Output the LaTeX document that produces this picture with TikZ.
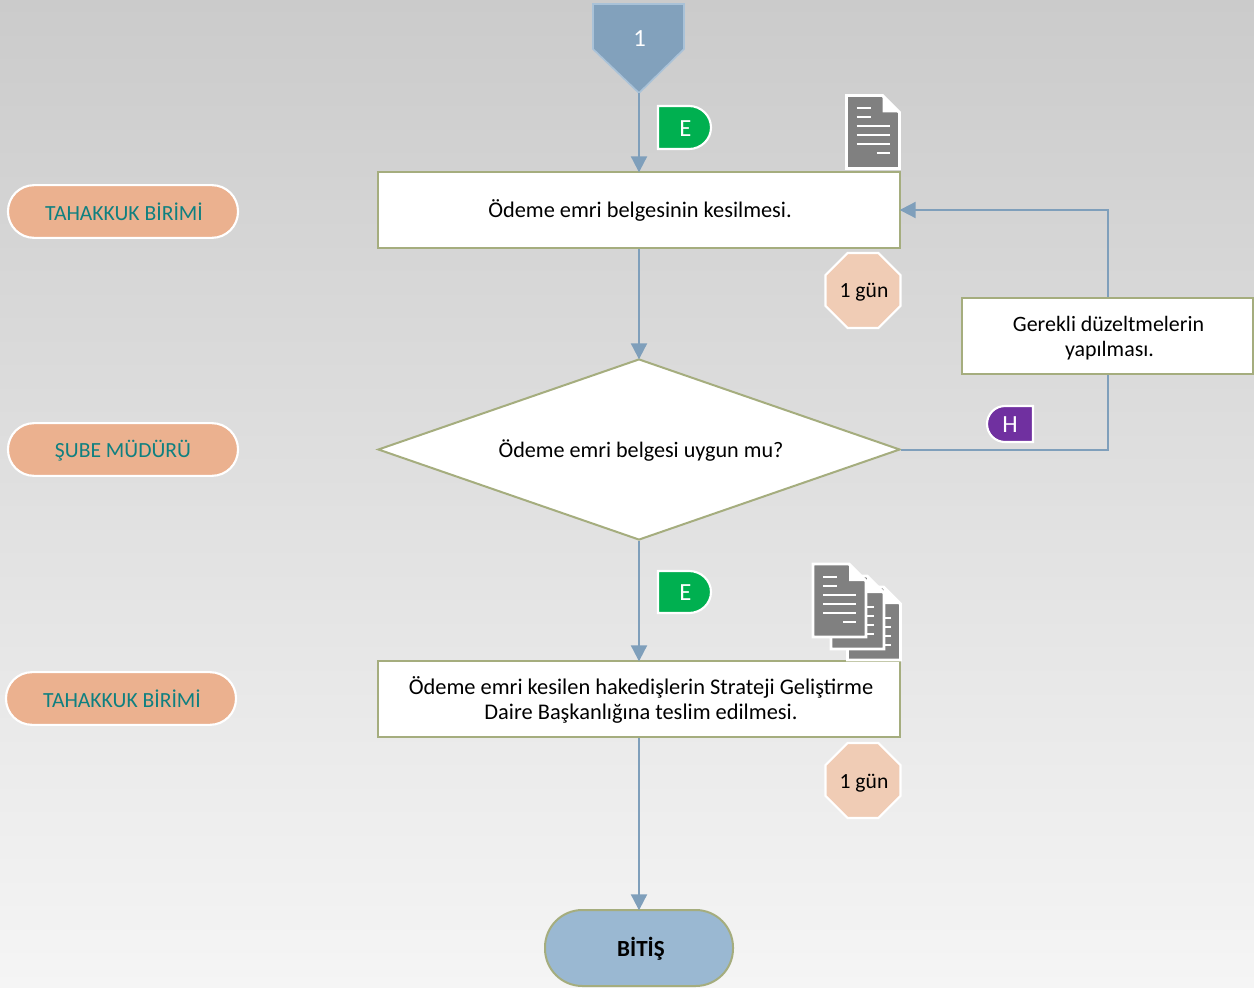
\documentclass[tikz,border=0pt]{standalone}
\usepackage{fontspec}
\setmainfont{Carlito}
\usetikzlibrary{arrows.meta,shapes.geometric,calc}
\definecolor{bgtop}{HTML}{CBCBCB}
\definecolor{bgbot}{HTML}{F5F5F5}
\definecolor{link}{HTML}{7F9FBB}
\definecolor{flagblue}{HTML}{82A1BC}
\definecolor{flagedge}{HTML}{A9C2D8}
\definecolor{olive}{HTML}{A5AD7E}
\definecolor{pillfill}{HTML}{EBB18F}
\definecolor{pilltext}{HTML}{0F8080}
\definecolor{octfill}{HTML}{F0CCB5}
\definecolor{endfill}{HTML}{9AB8D2}
\definecolor{docgray}{HTML}{808080}
\definecolor{tagE}{HTML}{00B050}
\definecolor{tagH}{HTML}{7030A0}
\newcommand{\dn}[2][1pt]{\raisebox{-#1}[\height][\depth]{#2}}
\newcommand{\fsz}[1]{\fontsize{#1}{19}\selectfont}
\newcommand{\docicon}[2]{%
  \begin{scope}[shift={(#1,#2)}]
    \fill[docgray,draw=white,line width=2.2] (0,0) -- (36,0) -- (53,17) -- (53,73) -- (0,73) -- cycle;
    \fill[white] (36,0) -- (53,17) -- (36,17) -- cycle;
    \draw[white,line width=1.5] (10,13)--(24,13) (10,22)--(24,22) (10,31)--(43,31) (10,40)--(43,40) (10,49)--(43,49) (30,58)--(43,58);
  \end{scope}}
\tikzset{
  x=0.75pt,y=-0.75pt,
  every node/.style={font=\fsz{16.2},text=black,align=center},
  conn/.style={draw=link,line width=1.5pt,-{Triangle[length=12pt,width=12pt]},shorten >=-1pt},
  connplain/.style={draw=link,line width=1.5pt},
  taskbox/.style={draw=olive,fill=white,line width=1.5pt,rectangle,inner sep=0pt},
  rolepill/.style={draw=white,fill=pillfill,line width=1.6pt,rounded corners=19.5pt,rectangle,minimum width=172.5pt,minimum height=39.5pt,inner sep=0pt,text=pilltext},
  timeoct/.style={draw=white,fill=octfill,line width=1.6pt,regular polygon,regular polygon sides=8,minimum size=60.8pt,inner sep=0pt},
  tagtext/.style={text=white,font=\fsz{18.5},inner sep=0pt},
}
\begin{document}
\begin{tikzpicture}
\useasboundingbox (0,0) rectangle (1254,988);
\shade[top color=bgtop,bottom color=bgbot,draw=none] (0,0) rectangle (1254,988);

% task nodes
\node[taskbox,minimum width=391.5pt,minimum height=57pt,font=\fsz{16.75}] (emri) at (639,210) {\hspace*{1.5pt}\dn[0.5pt]{Ödeme emri belgesinin kesilmesi.}};
\node[diamond,aspect=2.884,draw=olive,fill=white,line width=1.5pt,inner sep=0pt,minimum width=391.5pt,minimum height=135.75pt,font=\fsz{16.6}] (uygun) at (639,449.5) {\hspace*{3pt}\dn{Ödeme emri belgesi uygun mu?}};
\node[taskbox,minimum width=391.5pt,minimum height=57pt,font=\fsz{16.8}] (teslim) at (639,699) {\hspace*{3pt}\dn[0.7pt]{Ödeme emri kesilen hakedişlerin Strateji Geliştirme}\\[-0.5pt]\hspace*{3pt}\dn[0.7pt]{Daire Başkanlığına teslim edilmesi.}};
\node[taskbox,minimum width=218pt,minimum height=57pt,font=\fsz{16.45}] (duzelt) at (1107.5,336) {\hspace*{1.5pt}\dn[1.5pt]{Gerekli düzeltmelerin}\\[-0.5pt]\hspace*{3pt}\dn[1.5pt]{yapılması.}};
\node[draw=olive,fill=endfill,line width=1.5pt,rectangle,rounded corners=28pt,minimum width=141pt,minimum height=57pt,inner sep=0pt,font=\fsz{17.3}\bfseries] (bitis) at (639,948) {\hspace*{3pt}\dn[0.7pt]{BİTİŞ}};

% role pills
\node[rolepill] (rol1) at (123,211.5) {\hspace*{1.5pt}TAHAKKUK BİRİMİ};
\node[rolepill] (rol2) at (123,449.5) {\dn[0.7pt]{ŞUBE MÜDÜRÜ}};
\node[rolepill] (rol3) at (121,698.5) {\hspace*{1.5pt}TAHAKKUK BİRİMİ};

% duration octagons
\node[timeoct] (sure1) at (863,290.5) {\hspace*{1.5pt}\dn[1.5pt]{1 gün}};
\node[timeoct] (sure2) at (863,780.5) {\hspace*{1.5pt}\dn[2pt]{1 gün}};

% off-page connector
\draw[fill=flagblue,draw=flagedge,line width=1.2pt] (593,4) -- (684,4) -- (684,49) -- (639,93) -- (593,49) -- cycle;
\coordinate (flagtip) at (639,93);
\node[tagtext] (flag) at (639.5,38.5) {1};

% decision tags
\draw[fill=tagE,draw=white,line width=1.6pt] (658,106) -- (689,106) arc[start angle=-90,end angle=90,x radius=22,y radius=21.5] -- (658,149) -- cycle;
\node[tagtext] (tag1) at (685.5,129) {E};
\draw[fill=tagE,draw=white,line width=1.6pt] (658,571) -- (689,571) arc[start angle=-90,end angle=90,x radius=22,y radius=21] -- (658,613) -- cycle;
\node[tagtext] (tag2) at (685.5,593) {E};
\draw[fill=tagH,draw=white,line width=1.6pt] (1033,406) -- (1005,406) arc[start angle=-90,end angle=-270,x radius=18,y radius=18] -- (1033,442) -- cycle;
\node[tagtext] (tag3) at (1010,425) {H};

% document icons
\docicon{846.5}{95.5}
\docicon{847.5}{587}
\docicon{831}{576}
\docicon{813}{564}

% connectors
\draw[conn] (flagtip) -- (emri.north);
\draw[conn] (emri.south) -- (uygun.north);
\draw[conn] (uygun.south) -- (teslim.north);
\draw[conn] (teslim.south) -- (bitis.north);
\draw[connplain] (uygun.east) -| (duzelt.south);
\draw[conn] (duzelt.north) |- (emri.east);
\end{tikzpicture}
\end{document}
